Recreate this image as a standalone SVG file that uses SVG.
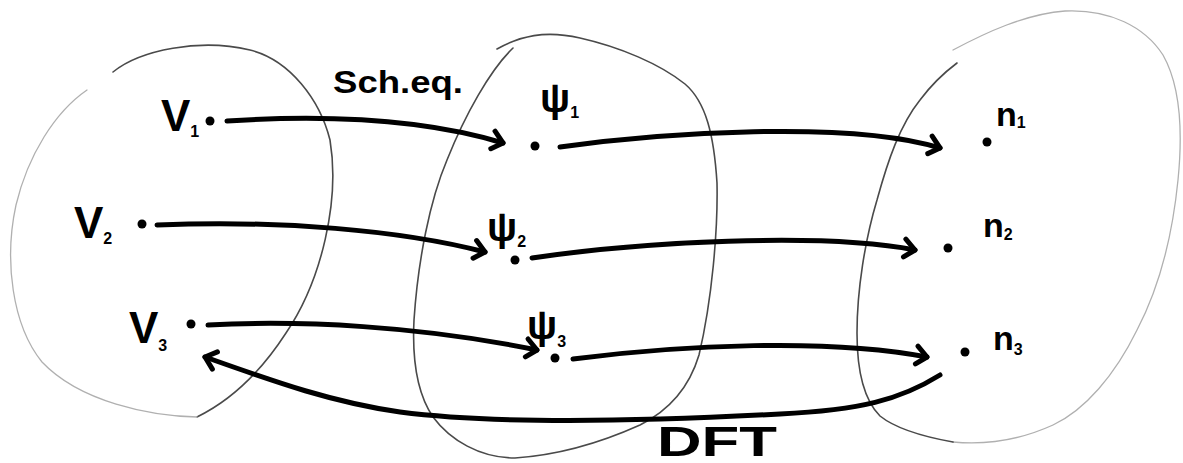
<svg xmlns="http://www.w3.org/2000/svg" width="1183" height="463" viewBox="0 0 1183 463">
  <style>
    .set-dark { fill: none; stroke: #4a4a4a; stroke-width: 1.6; stroke-linecap: round; }
    .set-light { fill: none; stroke: #b0b0b0; stroke-width: 1.3; stroke-linecap: round; }
    .conn { fill: none; stroke: #000; stroke-width: 5; stroke-linecap: round; }
    .dot { fill: #000; }
    .lbl { font-family: "Liberation Sans", Arial, sans-serif; font-weight: bold; fill: #000; }
    .sub { font-size: 16px; }
  </style>
  <defs>
    <marker id="head" markerUnits="userSpaceOnUse" viewBox="-16 -16 32 32" markerWidth="32" markerHeight="32" refX="0" refY="0" orient="auto" overflow="visible">
      <path d="M-11,-9 L0,0 L-10,9" fill="none" stroke="#000" stroke-width="5" stroke-linecap="round" stroke-linejoin="round"/>
    </marker>
  </defs>
  <rect width="1183" height="463" fill="#fff"/>

  <g id="sets">
    <g id="set-V">
      <path class="set-dark" d="M113,72 C140,50 200,38 250,50 C290,60 320,100 330,140 C340,200 322,280 286,333 C262,370 232,400 197,417"/>
      <path class="set-light" d="M197,417 C150,416 80,402 42,362 C12,325 4,260 16,205 C28,155 55,112 87,90"/>
    </g>
    <g id="set-psi">
      <path class="set-dark" d="M497,49 C520,36 545,30 580,38 C620,47 660,64 685,84 C706,102 714,135 717,183 C718,230 712,300 699,355 C690,385 670,410 640,425 C600,443 560,455 515,458 C480,458 450,440 433,417 C418,395 412,360 414,320 C418,260 430,200 447,160 C465,115 490,70 513,48"/>
    </g>
    <g id="set-n">
      <path class="set-light" d="M953,50 C985,33 1025,14 1065,11 C1110,9 1145,27 1163,55 C1180,85 1183,130 1178,180 C1172,240 1158,290 1137,330 C1115,375 1085,410 1053,425 C1020,440 985,445 953,442"/>
      <path class="set-dark" d="M953,442 C925,437 895,428 880,416 C864,400 857,370 857,333 C857,290 865,240 877,200 C888,160 900,125 920,100 C932,84 945,72 957,63"/>
    </g>
  </g>

  <g id="connectors">
    <path class="conn" marker-end="url(#head)" d="M227,121 C320,115 420,118 503,143"/>
    <path class="conn" marker-end="url(#head)" d="M560,147 C660,133 850,120 940,148"/>
    <path class="conn" marker-end="url(#head)" d="M157,225 C280,220 400,230 485,252"/>
    <path class="conn" marker-end="url(#head)" d="M532,258 C640,242 820,232 915,250"/>
    <path class="conn" marker-end="url(#head)" d="M208,325 C300,320 420,326 537,350"/>
    <path class="conn" marker-end="url(#head)" d="M573,359 C680,345 830,338 927,357"/>
    <path class="conn" marker-end="url(#head)" d="M940,375 C900,400 860,410 780,414 C650,421 500,425 400,412 C330,402 270,380 205,357"/>
    <text class="lbl" x="333" y="93" font-size="31" textLength="130" lengthAdjust="spacingAndGlyphs">Sch.eq.</text>
    <text class="lbl" x="657" y="456" font-size="42" textLength="120" lengthAdjust="spacingAndGlyphs">DFT</text>
  </g>

  <g id="node-V1">
    <circle class="dot" cx="210" cy="121" r="4.5"/>
    <text class="lbl" x="161" y="131" font-size="44">V<tspan class="sub" dy="6">1</tspan></text>
  </g>
  <g id="node-V2">
    <circle class="dot" cx="142" cy="224" r="4.5"/>
    <text class="lbl" x="74" y="238" font-size="44">V<tspan class="sub" dy="6">2</tspan></text>
  </g>
  <g id="node-V3">
    <circle class="dot" cx="191" cy="324" r="4.5"/>
    <text class="lbl" x="129" y="343" font-size="44">V<tspan class="sub" dy="8">3</tspan></text>
  </g>

  <g id="node-psi1">
    <circle class="dot" cx="535" cy="146" r="4.5"/>
    <text class="lbl" x="540" y="112" font-size="40">ψ<tspan class="sub" dy="6">1</tspan></text>
  </g>
  <g id="node-psi2">
    <circle class="dot" cx="515" cy="260" r="4.5"/>
    <text class="lbl" x="487" y="241" font-size="40">ψ<tspan class="sub" dy="6">2</tspan></text>
  </g>
  <g id="node-psi3">
    <circle class="dot" cx="555" cy="358" r="4.5"/>
    <text class="lbl" x="527" y="339" font-size="40">ψ<tspan class="sub" dy="8">3</tspan></text>
  </g>

  <g id="node-n1">
    <circle class="dot" cx="987" cy="142" r="4.5"/>
    <text class="lbl" x="996" y="126" font-size="34">n<tspan class="sub" font-size="18" dy="2">1</tspan></text>
  </g>
  <g id="node-n2">
    <circle class="dot" cx="948" cy="248" r="4.5"/>
    <text class="lbl" x="983" y="237" font-size="34">n<tspan class="sub" font-size="18" dy="3">2</tspan></text>
  </g>
  <g id="node-n3">
    <circle class="dot" cx="965" cy="352" r="4.5"/>
    <text class="lbl" x="993" y="350" font-size="34">n<tspan class="sub" font-size="18" dy="5">3</tspan></text>
  </g>
</svg>
